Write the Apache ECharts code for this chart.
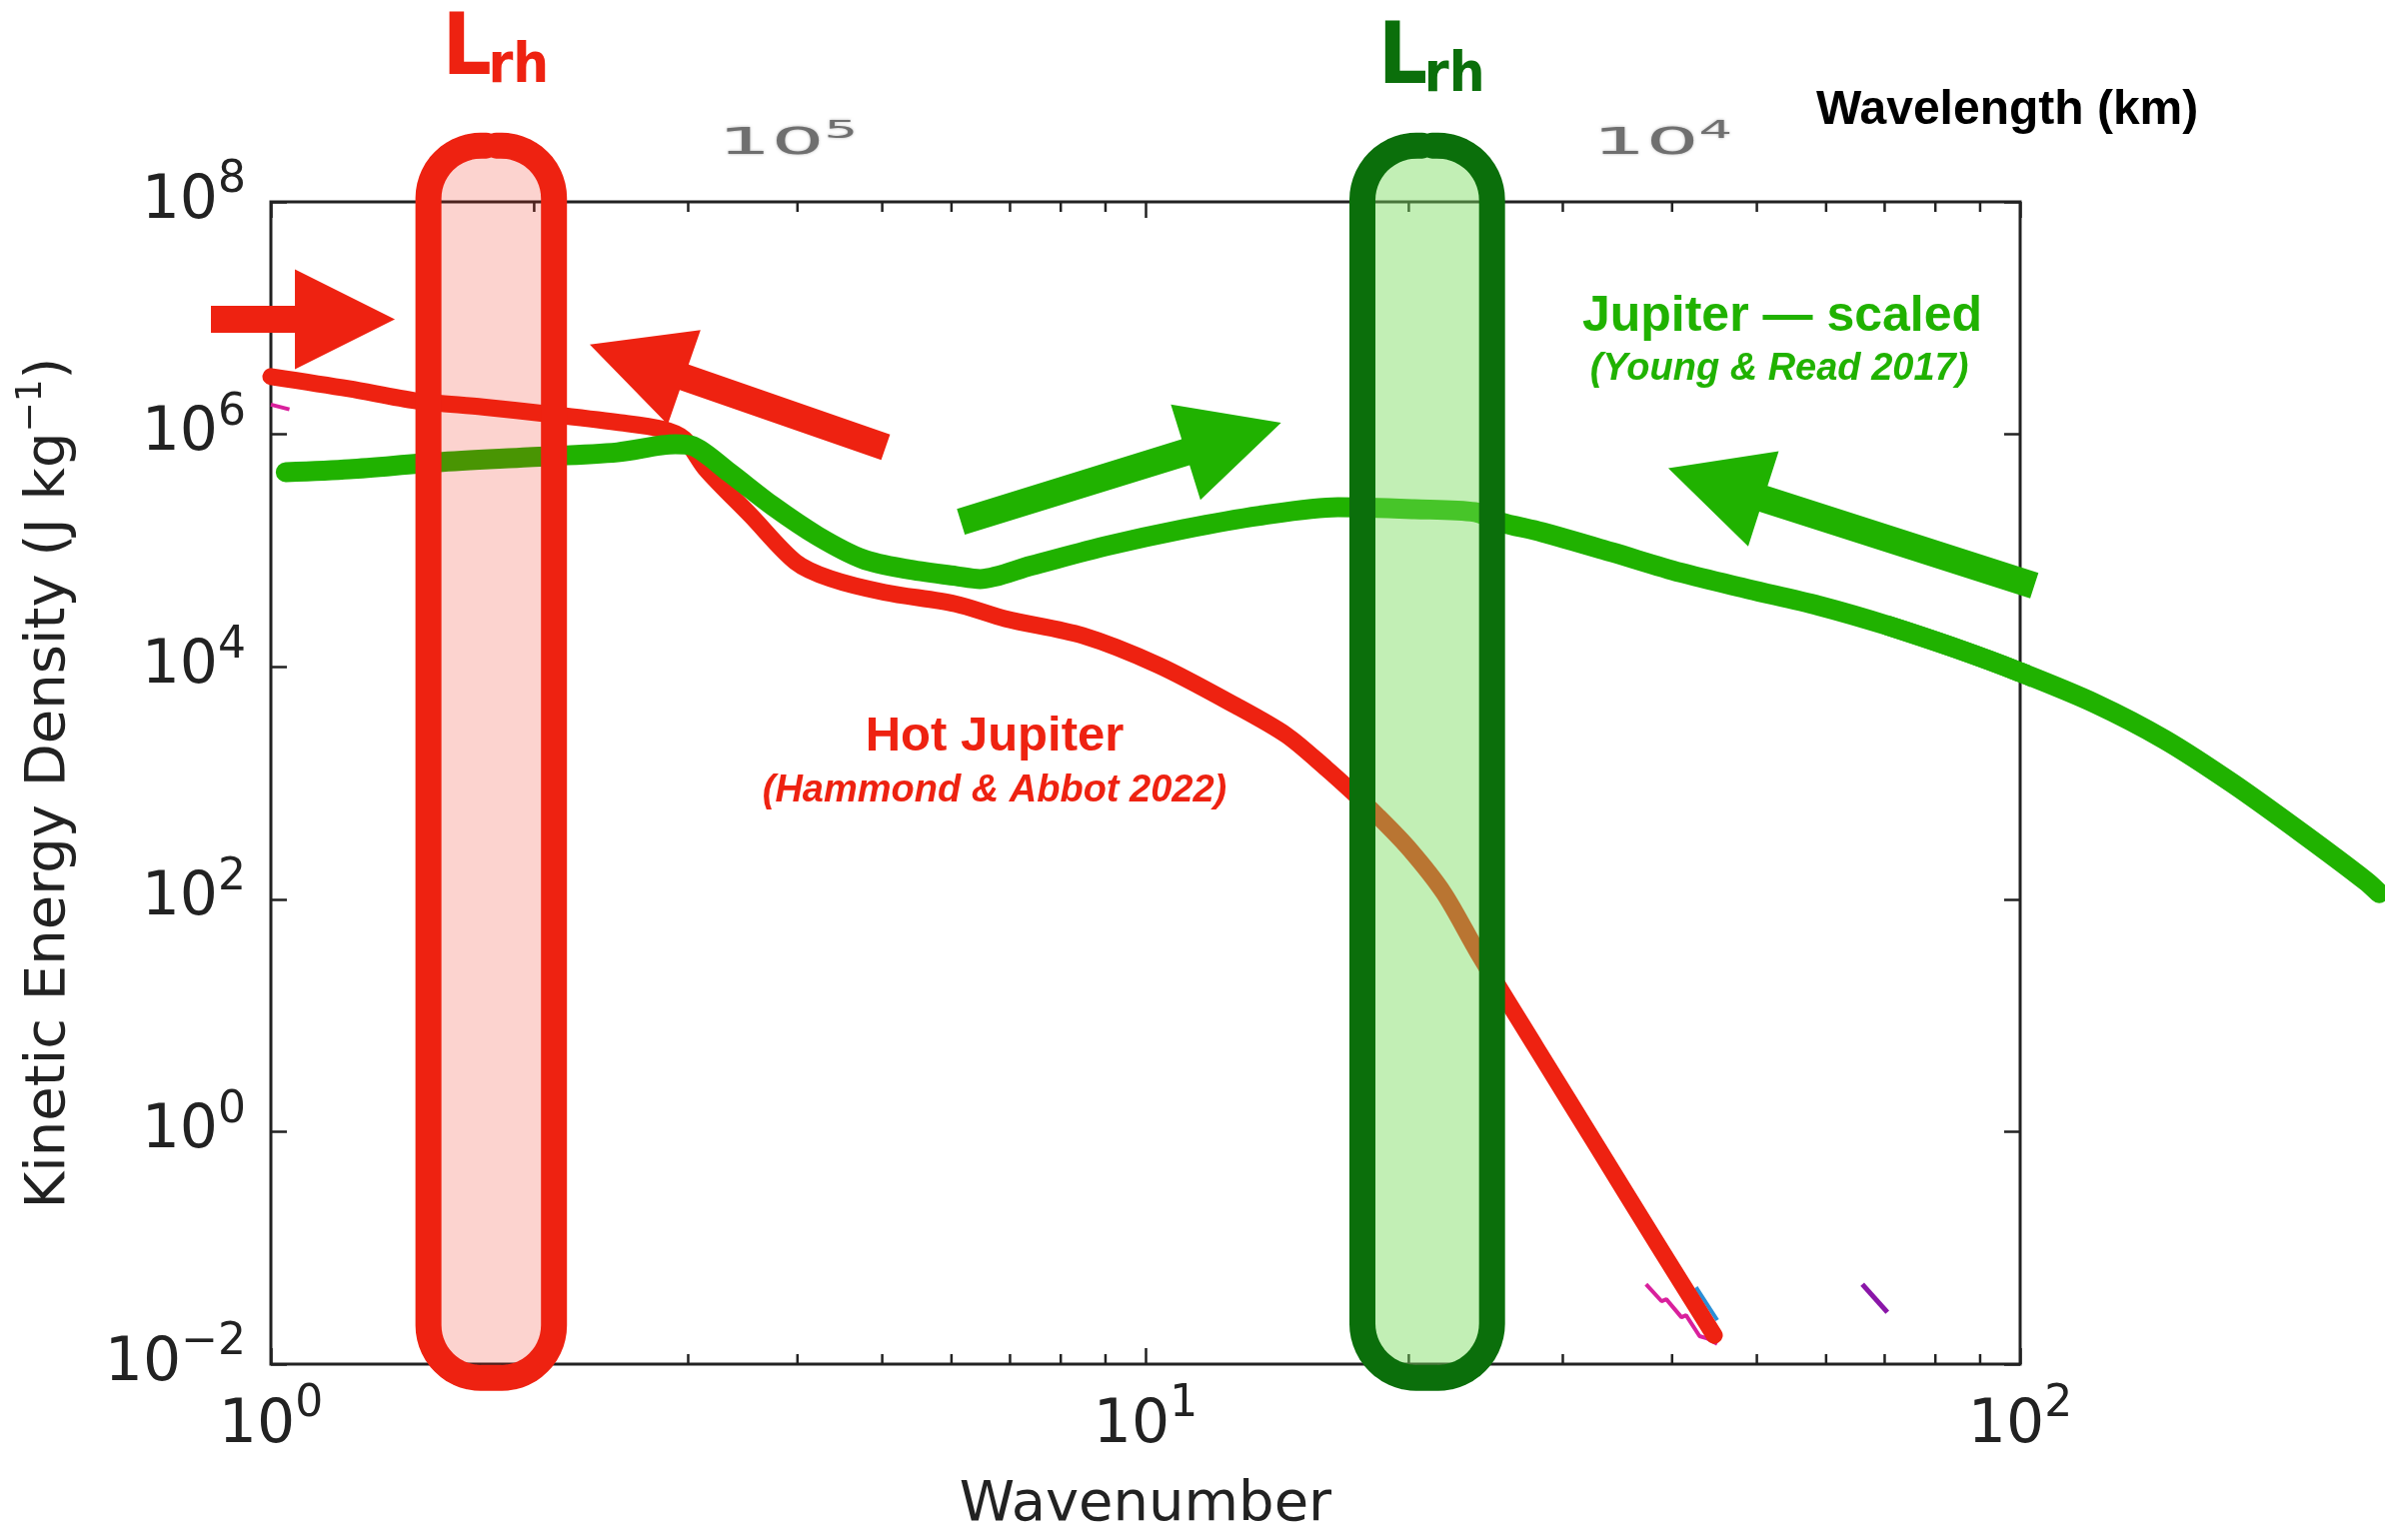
<!DOCTYPE html>
<html lang="en">
<head>
<meta charset="utf-8">
<title>Kinetic energy spectra: hot Jupiter and scaled Jupiter</title>
<script src="https://cdn.jsdelivr.net/npm/echarts@6.0.0/dist/echarts.min.js"></script>
<style>
  html, body { margin: 0; padding: 0; background: #ffffff; }
  #chart { width: 2386px; height: 1541px; }
</style>
</head>
<body>
<div id="chart"></div>
<script>
// ---- spectra: wavenumber vs kinetic energy density (J/kg) ----
const hotJupiterWavenumber = [1.0, 1.227, 1.466, 1.748, 2.085, 2.488, 2.799, 2.967, 3.144, 3.538, 3.98, 4.365, 5.03, 6.06, 6.92, 8.47, 10.35, 12.66, 14.49, 16.1, 17.17, 18.38, 20.0, 21.93, 24.04, 27.99, 32.86, 38.56, 44.7];
const hotJupiterEnergy = [3.14e6, 2.47e6, 1.94e6, 1.72e6, 1.49e6, 1.27e6, 1.11e6, 9.14e5, 5.0e5, 2.0e5, 7.98e4, 5.73e4, 4.37e4, 3.48e4, 2.59e4, 1.86e4, 1.03e4, 4.66e3, 2.58e3, 1.33e3, 861, 531, 274, 113, 33.8, 5.23, 0.74, 0.105, 0.0177];

const jupiterWavenumber = [1.04, 1.23, 1.55, 1.97, 2.49, 2.90, 3.04, 3.34, 3.75, 4.22, 4.75, 5.33, 6.07, 6.47, 7.40, 9.05, 11.07, 13.5, 16.6, 20.3, 23.8, 25.4, 28.4, 34.1, 40.9, 49.0, 58.8, 70.6, 84.7, 99.7, 121.7, 146.3, 175.2, 210.6, 248.3, 257.3];
const jupiterEnergy = [4.72e5, 5.01e5, 5.75e5, 6.35e5, 7.0e5, 8.2e5, 7.9e5, 4.72e5, 2.41e5, 1.33e5, 8.45e4, 6.93e4, 6.04e4, 5.69e4, 7.41e4, 1.10e5, 1.53e5, 1.99e5, 2.36e5, 2.27e5, 2.14e5, 1.76e5, 1.44e5, 9.7e4, 6.46e4, 4.64e4, 3.36e4, 2.26e4, 1.43e4, 9.06e3, 4.85e3, 2.36e3, 984, 365, 144, 113];

// short traces of other spectra still visible in the panel
const magentaTraceWavenumber = [37.35, 38.9, 39.4, 41.0, 41.5, 43.0, 43.8, 45.05];
const magentaTraceEnergy = [0.0486, 0.0348, 0.0361, 0.0253, 0.0263, 0.0174, 0.0167, 0.0149];
const purpleTraceWavenumber = [66.0, 70.5];
const purpleTraceEnergy = [0.0486, 0.0279];
const blueTraceWavenumber = [42.6, 45.05];
const blueTraceEnergy = [0.0458, 0.0239];
const magentaStubWavenumber = [1.0, 1.05];
const magentaStubEnergy = [1.8e6, 1.64e6];

// Rhines-scale bands (wavenumber span) and their vertical reach (J/kg)
const rhinesHotWavenumber = [1.514, 2.107];
const rhinesJupiterWavenumber = [17.7, 24.9];
const rhinesEnergyRange = [7.6e-3, 3.05e8];

// arrows: [tail wavenumber, tail energy, tip wavenumber, tip energy]
const redArrows = [[0.854, 9.75e6, 1.386, 9.75e6], [5.045, 7.73e5, 2.315, 5.93e6]];
const greenArrows = [[6.15, 1.77e5, 14.29, 1.26e6], [103.8, 4.99e4, 39.6, 5.1e5]];

// axes
const xRange = [1, 100];
const yRange = [1e-2, 1e8];
const xMinorTicks = [2, 3, 4, 5, 6, 7, 8, 9, 20, 30, 40, 50, 60, 70, 80, 90];
// secondary scale: wavelength = circumference / wavenumber
const CIRCUMFERENCE_KM = 3.9e5;
const wavelengthTicksKm = [1e5, 1e4];

// ---- styling ----
const RED = '#ee2211';
const GREEN = '#20b200';
const DARK_GREEN = '#0b6f0b';
const AXIS_INK = '#222222';
const AXIS_FONT = "'DejaVu Sans', sans-serif";
const BOLD_FONT = "'Liberation Sans', Arial, sans-serif";
const NARROW_FONT = "'Liberation Sans Narrow', 'DejaVu Sans Condensed', 'Liberation Sans', sans-serif";
const GREEN_WIDTH = 20;
const SMOOTH = 0.3;

const zip = (xs, ys) => xs.map((x, i) => [x, ys[i]]);

function powerLabel(v) {
  const e = Math.round(Math.log10(v));
  return '{b|10}{s|' + (e < 0 ? '\u2212' + (-e) : String(e)) + '}';
}
const powerRich = {
  b: { fontSize: 60, lineHeight: 86, fontFamily: AXIS_FONT, color: AXIS_INK },
  s: { fontSize: 44, lineHeight: 44, verticalAlign: 'top', fontFamily: AXIS_FONT, color: AXIS_INK }
};

const bandStyles = [
  { fill: 'rgba(238,34,17,0.2)', stroke: RED, labelLift: 94 },
  { fill: 'rgba(120,220,90,0.45)', stroke: DARK_GREEN, labelLift: 85 }
];

function renderBand(params, api) {
  const st = bandStyles[params.dataIndex];
  const a = api.coord([api.value(0), api.value(3)]);
  const b = api.coord([api.value(1), api.value(2)]);
  const L = a[0], T = a[1], R = b[0], B = b[1];
  const w = R - L, h = B - T;
  const r = w * 0.42;
  const cx = (L + R) / 2;
  const gap = 10;
  const pts = [[cx + gap / 2, T]];
  const arc = (ox, oy, a0, a1) => {
    for (let k = 0; k <= 14; k++) {
      const t = a0 + (a1 - a0) * k / 14;
      pts.push([ox + r * Math.cos(t), oy + r * Math.sin(t)]);
    }
  };
  arc(R - r, T + r, -Math.PI / 2, 0);
  arc(R - r, B - r, 0, Math.PI / 2);
  arc(L + r, B - r, Math.PI / 2, Math.PI);
  arc(L + r, T + r, Math.PI, Math.PI * 1.5);
  pts.push([cx - gap / 2, T]);
  const labelY = T - st.labelLift;
  return {
    type: 'group',
    children: [
      { type: 'rect', shape: { x: L, y: T, width: w, height: h, r: r }, style: { fill: st.fill } },
      { type: 'polyline', shape: { points: pts },
        style: { stroke: st.stroke, lineWidth: 26, fill: null, lineJoin: 'round', lineCap: 'round' } },
      { type: 'text', x: cx - 49, y: labelY,
        style: { text: 'L', font: 'bold 86px ' + NARROW_FONT, fill: st.stroke,
                 align: 'left', verticalAlign: 'middle', textAlign: 'left', textVerticalAlign: 'middle' } },
      { type: 'text', x: cx - 3, y: labelY + 16,
        style: { text: 'rh', font: 'bold 56px ' + NARROW_FONT, fill: st.stroke,
                 align: 'left', verticalAlign: 'middle', textAlign: 'left', textVerticalAlign: 'middle' } }
    ]
  };
}

const ARROW_SHAFT = 27, ARROW_HEAD_W = 100, ARROW_HEAD_L = 100;
function renderArrow(params, api) {
  const t = api.coord([api.value(0), api.value(1)]);
  const p = api.coord([api.value(2), api.value(3)]);
  const dx = p[0] - t[0], dy = p[1] - t[1];
  const len = Math.hypot(dx, dy);
  const ux = dx / len, uy = dy / len, vx = -uy, vy = ux;
  const sw = ARROW_SHAFT / 2, hw = ARROW_HEAD_W / 2;
  const bx = p[0] - ux * ARROW_HEAD_L, by = p[1] - uy * ARROW_HEAD_L;
  const pts = [
    [t[0] + vx * sw, t[1] + vy * sw], [bx + vx * sw, by + vy * sw], [bx + vx * hw, by + vy * hw],
    [p[0], p[1]],
    [bx - vx * hw, by - vy * hw], [bx - vx * sw, by - vy * sw], [t[0] - vx * sw, t[1] - vy * sw]
  ];
  return { type: 'polygon', shape: { points: pts }, style: { fill: api.visual('color') } };
}

// the scaled-Jupiter spectrum runs past the right edge of the frame:
// that stretch is traced here from the points beyond the last in-frame ones
const jupiterTail = zip(jupiterWavenumber, jupiterEnergy).filter(p => p[0] >= 70);
function renderJupiterTail(params, api) {
  if (params.dataIndex !== 0) return null;
  const pts = jupiterTail.map(p => api.coord(p));
  return {
    type: 'polyline', shape: { points: pts, smooth: SMOOTH },
    style: { stroke: GREEN, lineWidth: GREEN_WIDTH, fill: null, lineCap: 'round', lineJoin: 'round' }
  };
}

function renderMinorTick(params, api) {
  const n = api.value(0);
  const b = api.coord([n, yRange[0]]);
  const t = api.coord([n, yRange[1]]);
  const s = { stroke: AXIS_INK, lineWidth: 2.5 };
  return {
    type: 'group',
    children: [
      { type: 'line', shape: { x1: b[0], y1: b[1], x2: b[0], y2: b[1] - 10 }, style: s },
      { type: 'line', shape: { x1: t[0], y1: t[1], x2: t[0], y2: t[1] + 10 }, style: s }
    ]
  };
}

function renderWavelengthLabel(params, api) {
  const p = api.coord([api.value(0), api.value(1)]);
  const e = Math.round(Math.log10(api.value(2)));
  const ink = '#6f6f6f';
  return {
    type: 'text', x: p[0], y: p[1] - 58, scaleX: 2.2,
    style: {
      text: '{b|10}{s|' + e + '}',
      rich: {
        b: { fontSize: 38, lineHeight: 48, fontFamily: AXIS_FONT, fill: ink, color: ink },
        s: { fontSize: 24, lineHeight: 24, verticalAlign: 'top', fontFamily: AXIS_FONT, fill: ink, color: ink }
      },
      fill: ink,
      align: 'center', verticalAlign: 'middle', textAlign: 'center', textVerticalAlign: 'middle',
      textShadowColor: 'rgba(110,110,110,0.55)', textShadowBlur: 3
    }
  };
}

function logAxis(extra) {
  return Object.assign({
    type: 'log', logBase: 10,
    axisLine: { show: false },
    axisTick: { show: true, inside: true, length: 16, lineStyle: { color: AXIS_INK, width: 2.5 } },
    splitLine: { show: false },
    minorTick: { show: false }
  }, extra);
}

const option = {
  animation: false,
  backgroundColor: '#ffffff',
  grid: {
    show: true, left: 271, top: 202, width: 1750, height: 1165,
    borderColor: AXIS_INK, borderWidth: 3, backgroundColor: 'transparent'
  },
  xAxis: [
    logAxis({
      position: 'bottom', min: xRange[0], max: xRange[1],
      axisLabel: { margin: 19, formatter: powerLabel, rich: powerRich },
      name: 'Wavenumber', nameLocation: 'middle', nameGap: 111,
      nameTextStyle: { fontSize: 56, fontFamily: AXIS_FONT, color: AXIS_INK, lineHeight: 60 }
    }),
    logAxis({ position: 'top', min: xRange[0], max: xRange[1], axisLabel: { show: false } })
  ],
  yAxis: [
    logAxis({
      position: 'left', min: yRange[0], max: yRange[1], interval: 2,
      axisLabel: { margin: 25, formatter: powerLabel, rich: powerRich },
      name: 'Kinetic Energy Density (J kg{sup|\u22121})', nameLocation: 'middle', nameGap: 187, nameRotate: 90,
      nameTextStyle: {
        fontSize: 56, fontFamily: AXIS_FONT, color: AXIS_INK, lineHeight: 70,
        rich: { sup: { fontSize: 36, lineHeight: 36, verticalAlign: 'top', fontFamily: AXIS_FONT, color: AXIS_INK } }
      }
    }),
    logAxis({ position: 'right', min: yRange[0], max: yRange[1], interval: 2, axisLabel: { show: false } })
  ],
  series: [
    {
      type: 'custom', name: 'minor ticks', renderItem: renderMinorTick, clip: false, z: 1,
      data: xMinorTicks.map(n => [n, yRange[0]])
    },
    {
      type: 'line', name: 'blue trace', data: zip(blueTraceWavenumber, blueTraceEnergy),
      showSymbol: false, clip: false, z: 2, lineStyle: { color: '#2b8fd6', width: 4 }
    },
    {
      type: 'line', name: 'magenta trace', data: zip(magentaTraceWavenumber, magentaTraceEnergy),
      showSymbol: false, clip: false, z: 2, lineStyle: { color: '#d9209c', width: 4 }
    },
    {
      type: 'line', name: 'purple trace', data: zip(purpleTraceWavenumber, purpleTraceEnergy),
      showSymbol: false, clip: false, z: 2, lineStyle: { color: '#8a16a8', width: 5 }
    },
    {
      type: 'line', name: 'magenta stub', data: zip(magentaStubWavenumber, magentaStubEnergy),
      showSymbol: false, clip: false, z: 2, lineStyle: { color: '#d9209c', width: 4 }
    },
    {
      type: 'line', name: 'Hot Jupiter', data: zip(hotJupiterWavenumber, hotJupiterEnergy),
      showSymbol: false, clip: false, z: 3, smooth: SMOOTH,
      lineStyle: { color: RED, width: 17, cap: 'round', join: 'round' }
    },
    {
      type: 'line', name: 'Jupiter - scaled', data: zip(jupiterWavenumber, jupiterEnergy),
      showSymbol: false, clip: false, z: 4, smooth: SMOOTH,
      lineStyle: { color: GREEN, width: GREEN_WIDTH, cap: 'round', join: 'round' }
    },
    {
      type: 'custom', name: 'Jupiter - scaled (beyond frame)', renderItem: renderJupiterTail, clip: false, z: 4,
      data: jupiterTail
    },
    {
      type: 'custom', name: 'Rhines bands', renderItem: renderBand, clip: false, z: 5,
      encode: { x: [0, 1], y: [2, 3] },
      data: [
        [rhinesHotWavenumber[0], rhinesHotWavenumber[1], rhinesEnergyRange[0], rhinesEnergyRange[1]],
        [rhinesJupiterWavenumber[0], rhinesJupiterWavenumber[1], rhinesEnergyRange[0], rhinesEnergyRange[1]]
      ]
    },
    {
      type: 'custom', name: 'red arrows', renderItem: renderArrow, clip: false, z: 6,
      color: RED, itemStyle: { color: RED }, encode: { x: [0, 2], y: [1, 3] }, data: redArrows
    },
    {
      type: 'custom', name: 'green arrows', renderItem: renderArrow, clip: false, z: 6,
      color: GREEN, itemStyle: { color: GREEN }, encode: { x: [0, 2], y: [1, 3] }, data: greenArrows
    },
    {
      type: 'custom', name: 'wavelength labels', renderItem: renderWavelengthLabel, clip: false, z: 6,
      data: wavelengthTicksKm.map(l => [CIRCUMFERENCE_KM / l, yRange[1], l])
    }
  ],
  graphic: [
    { type: 'text', x: 1817, y: 111, z: 100,
      style: { text: 'Wavelength (km)', font: 'bold 48px ' + BOLD_FONT, fill: '#000000',
               align: 'left', verticalAlign: 'middle', textAlign: 'left', textVerticalAlign: 'middle' } },
    { type: 'text', x: 1783, y: 317, z: 100,
      style: { text: 'Jupiter \u2014 scaled', font: 'bold 50px ' + BOLD_FONT, fill: GREEN,
               align: 'center', verticalAlign: 'middle', textAlign: 'center', textVerticalAlign: 'middle' } },
    { type: 'text', x: 1780, y: 370, z: 100,
      style: { text: '(Young & Read 2017)', font: 'italic bold 38px ' + BOLD_FONT, fill: GREEN,
               align: 'center', verticalAlign: 'middle', textAlign: 'center', textVerticalAlign: 'middle' } },
    { type: 'text', x: 995, y: 737, z: 100,
      style: { text: 'Hot Jupiter', font: 'bold 49px ' + BOLD_FONT, fill: RED,
               align: 'center', verticalAlign: 'middle', textAlign: 'center', textVerticalAlign: 'middle' } },
    { type: 'text', x: 995, y: 792, z: 100,
      style: { text: '(Hammond & Abbot 2022)', font: 'italic bold 38px ' + BOLD_FONT, fill: RED,
               align: 'center', verticalAlign: 'middle', textAlign: 'center', textVerticalAlign: 'middle' } }
  ]
};

const chart = echarts.init(document.getElementById('chart'), null, { renderer: 'canvas' });
chart.setOption(option);
</script>
</body>
</html>
